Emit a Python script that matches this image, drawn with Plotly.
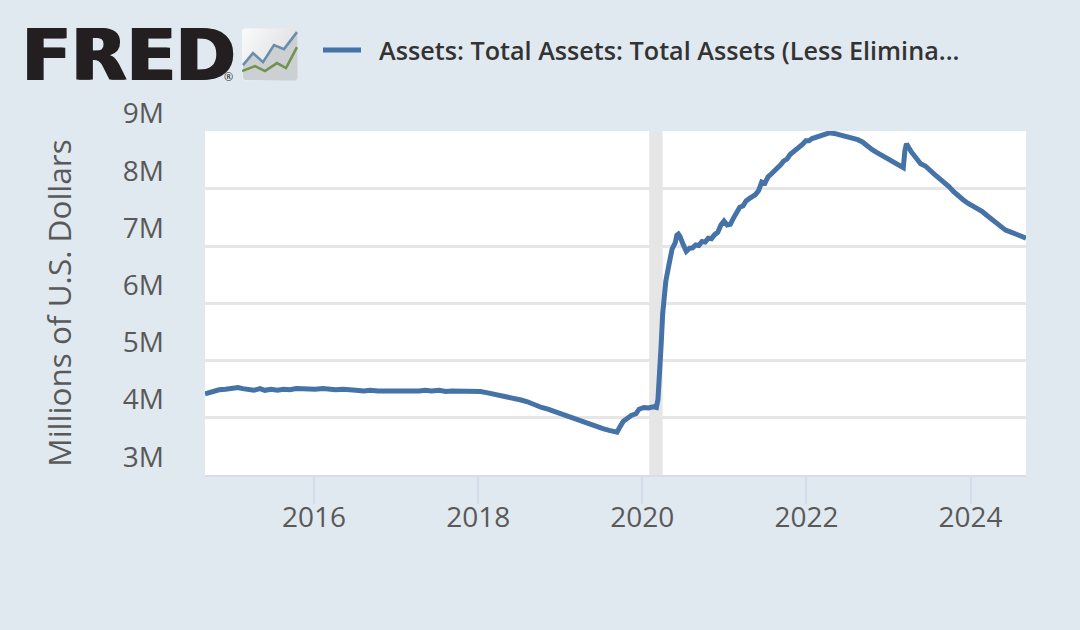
import base64
import plotly.graph_objects as go

series_name = "\u00a0\u00a0Assets: Total Assets: Total Assets (Less Elimina..."
y_title = "Millions of U.S. Dollars"
y_ticks = [3, 4, 5, 6, 7, 8, 9]
y_labels = ["3M<br> ", "4M<br> ", "5M<br> ", "6M<br> ", "7M<br> ", "8M<br> ", "9M<br> "]
x_ticks = ["2016-01-01", "2018-01-01", "2020-01-01", "2022-01-01", "2024-01-01"]
x_labels = ["2016", "2018", "2020", "2022", "2024"]
recession = ["2020-02-01", "2020-04-01"]

dates_to_peak = [
    "2014-09-03", "2014-09-24", "2014-10-15", "2014-11-05", "2014-12-03", "2015-01-07", "2015-01-28",
    "2015-02-18", "2015-03-11", "2015-04-08", "2015-05-06", "2015-05-27", "2015-06-24", "2015-07-22",
    "2015-08-19", "2015-09-16", "2015-10-14", "2015-11-11", "2015-12-09", "2016-01-06", "2016-02-10",
    "2016-03-09", "2016-04-06", "2016-05-11", "2016-06-08", "2016-07-06", "2016-08-10", "2016-09-07",
    "2016-10-12", "2016-11-09", "2016-12-07", "2017-01-11", "2017-02-08", "2017-03-08", "2017-04-12",
    "2017-05-10", "2017-06-07", "2017-07-12", "2017-08-09", "2017-09-06", "2017-10-11", "2017-11-08",
    "2017-12-06", "2018-01-10", "2018-02-07", "2018-03-07", "2018-04-04", "2018-05-09", "2018-06-06",
    "2018-07-11", "2018-08-08", "2018-09-05", "2018-10-10", "2018-11-07", "2018-12-05", "2019-01-09",
    "2019-02-13", "2019-03-13", "2019-04-10", "2019-05-08", "2019-06-12", "2019-07-10", "2019-08-07",
    "2019-09-04", "2019-09-11", "2019-09-25", "2019-10-09", "2019-10-23", "2019-11-13", "2019-12-04",
    "2019-12-18", "2020-01-08", "2020-01-29", "2020-02-19", "2020-03-04", "2020-03-11", "2020-03-18",
    "2020-03-25", "2020-04-01", "2020-04-08", "2020-04-15", "2020-04-29", "2020-05-13", "2020-05-27",
    "2020-06-03", "2020-06-10",
]
values_to_peak = [
    4.42, 4.45, 4.47, 4.49, 4.50, 4.51, 4.53,
    4.51, 4.50, 4.48, 4.51, 4.48, 4.50, 4.48,
    4.50, 4.49, 4.51, 4.50, 4.50, 4.50, 4.51,
    4.50, 4.49, 4.50, 4.48, 4.48, 4.47, 4.48,
    4.47, 4.47, 4.46, 4.46, 4.46, 4.45, 4.47,
    4.48, 4.47, 4.48, 4.46, 4.47, 4.47, 4.46,
    4.46, 4.46, 4.44, 4.42, 4.40, 4.37, 4.34,
    4.31, 4.28, 4.23, 4.18, 4.15, 4.11, 4.05,
    4.01, 3.97, 3.92, 3.89, 3.85, 3.81, 3.78,
    3.76, 3.75, 3.85, 3.94, 3.98, 4.04, 4.07,
    4.15, 4.18, 4.17, 4.19, 4.18, 4.32, 4.68,
    5.26, 5.82, 6.10, 6.39, 6.68, 6.95, 7.06,
    7.19, 7.21,
]
dates_rise = [
    "2020-06-17", "2020-07-01", "2020-07-15", "2020-07-29", "2020-08-12", "2020-08-26", "2020-09-09",
    "2020-09-23", "2020-10-07", "2020-10-21", "2020-11-04", "2020-11-18", "2020-12-02", "2020-12-16",
    "2020-12-30", "2021-01-13", "2021-01-27", "2021-02-10", "2021-02-24", "2021-03-10", "2021-03-24",
    "2021-04-07", "2021-04-21", "2021-05-05", "2021-05-19", "2021-06-02", "2021-06-16", "2021-06-30",
    "2021-07-14", "2021-07-28", "2021-08-11", "2021-08-25", "2021-09-08", "2021-09-22", "2021-10-06",
    "2021-10-20", "2021-11-03", "2021-11-17", "2021-12-01", "2021-12-15", "2021-12-29", "2022-01-12",
    "2022-01-26", "2022-02-16", "2022-03-09",
]
values_rise = [
    7.17, 7.03, 6.91, 6.96, 6.97, 7.02, 7.01,
    7.08, 7.07, 7.14, 7.13, 7.20, 7.24, 7.37,
    7.44, 7.37, 7.38, 7.49, 7.59, 7.68, 7.70,
    7.79, 7.83, 7.87, 7.90, 7.97, 8.12, 8.10,
    8.21, 8.26, 8.31, 8.36, 8.42, 8.49, 8.52,
    8.60, 8.64, 8.70, 8.72, 8.78, 8.84, 8.84,
    8.88, 8.91, 8.95,
]
dates_decline = [
    "2022-03-23", "2022-04-13", "2022-05-04", "2022-05-25", "2022-06-15", "2022-07-06",
    "2022-07-27", "2022-08-17", "2022-09-07", "2022-09-28", "2022-10-19", "2022-11-09", "2022-11-30",
    "2022-12-21", "2023-01-11", "2023-02-01", "2023-02-22", "2023-03-08", "2023-03-15", "2023-03-22",
    "2023-04-12", "2023-05-03", "2023-05-24", "2023-06-14", "2023-07-05", "2023-07-26", "2023-08-16",
    "2023-09-06", "2023-09-27", "2023-10-18", "2023-11-08", "2023-11-29", "2023-12-20", "2024-01-10",
    "2024-01-31", "2024-02-21", "2024-03-13", "2024-04-03", "2024-04-24", "2024-05-15", "2024-06-05",
    "2024-06-26", "2024-07-17", "2024-08-07", "2024-08-28", "2024-09-04",
]
values_decline = [
    8.97, 8.98, 8.97, 8.95, 8.94, 8.92,
    8.90, 8.86, 8.82, 8.75, 8.69, 8.64, 8.59,
    8.53, 8.50, 8.44, 8.39, 8.37, 8.67, 8.79,
    8.65, 8.53, 8.44, 8.40, 8.31, 8.25, 8.18,
    8.12, 8.04, 7.95, 7.87, 7.81, 7.75, 7.70,
    7.67, 7.61, 7.54, 7.47, 7.41, 7.34, 7.28,
    7.25, 7.22, 7.20, 7.15, 7.14,
]

icon_svg = """<svg xmlns='http://www.w3.org/2000/svg' width='56' height='53' viewBox='0 0 56 53'>
<defs><linearGradient id='g' x1='0' y1='0' x2='1' y2='0.6'><stop offset='0' stop-color='#fbfbfb'/><stop offset='1' stop-color='#d9dcde'/></linearGradient></defs>
<rect width='56' height='53' rx='4' fill='url(#g)'/>
<path d='M1 37 L11 25 L21 34 L32 17 L42 21 L55 4 L55 49 Q55 52 52 52 L4 52 Q1 52 1 49 Z' fill='#cdd0d2'/>
<path d='M1 37 L11 25 L21 34 L32 17 L42 21 L55 4' fill='none' stroke='#6a8da9' stroke-width='2.6'/>
<path d='M0 43 L13 38 L23 43 L35 35 L44 40 L55 19' fill='none' stroke='#6f9350' stroke-width='2.6'/>
</svg>"""
icon_uri = "data:image/svg+xml;base64," + base64.b64encode(icon_svg.encode()).decode()

fig = go.Figure(go.Scatter(
    x=dates_to_peak + dates_rise + dates_decline,
    y=values_to_peak + values_rise + values_decline,
    mode="lines", name=series_name,
    line=dict(color="#4572a7", width=5), showlegend=True, hoverinfo="x+y",
))

fig.add_vrect(x0=recession[0], x1=recession[1], fillcolor="#e6e6e6", line_width=0, layer="below")

W, H = 1080, 630
fig.update_layout(
    width=W, height=H, autosize=False,
    paper_bgcolor="#e1e9f0", plot_bgcolor="#ffffff",
    margin=dict(l=205, r=54, t=131, b=154.5),
    font=dict(family="Open Sans", color="#595959"),
    xaxis=dict(
        type="date", range=["2014-09-03", "2024-09-04"],
        tickmode="array", tickvals=x_ticks, ticktext=x_labels,
        tickfont=dict(size=28, color="#595959"),
        showgrid=False, ticks="outside", ticklen=27, tickwidth=2, tickcolor="#d3dcea",
        showline=True, linecolor="#d6dde8", linewidth=2,
        ticklabelstandoff=-11,
    ),
    yaxis=dict(
        range=[3, 9.012], tickmode="array", tickvals=y_ticks, ticktext=y_labels,
        tickfont=dict(size=28, color="#595959"),
        gridcolor="#e6e6e6", gridwidth=2.5, zeroline=False,
        ticklabelposition="outside", ticks="", ticklabelstandoff=40,
        title=dict(text=y_title, font=dict(size=31.5, color="#595959"), standoff=41),
        automargin=False,
    ),
    legend=dict(
        x=(318 - 205) / 821, y=1 - 50 / H, xref="paper", yref="container", xanchor="left", yanchor="middle",
        bgcolor="rgba(0,0,0,0)", font=dict(size=25.2, color="#333333", weight=600),
        itemwidth=38, borderwidth=0,
    ),
    annotations=[
        dict(text="FRED", xref="paper", yref="paper", x=(20 - 205) / 821, y=1 + (131 - 55) / 344.5,
             xanchor="left", yanchor="middle", showarrow=False,
             font=dict(family="DejaVu Sans", size=72, color="#231f20", weight=700,
                       shadow="1.5px 0 0 #231f20, -1.5px 0 0 #231f20")),
        dict(text="®", xref="paper", yref="paper", x=(222 - 205) / 821, y=1 + (131 - 76) / 344.5,
             xanchor="left", yanchor="middle", showarrow=False,
             font=dict(family="Open Sans", size=11, color="#231f20")),
    ],
    images=[dict(source=icon_uri, xref="paper", yref="paper", x=(242 - 205) / 821, y=1 + (131 - 28) / 344.5,
                 sizex=56 / 821, sizey=53 / 344.5, xanchor="left", yanchor="top", sizing="stretch", layer="above")],
)

fig.write_html("out.html", config=dict(displayModeBar=False),
               post_script="document.body.style.margin='0';")
